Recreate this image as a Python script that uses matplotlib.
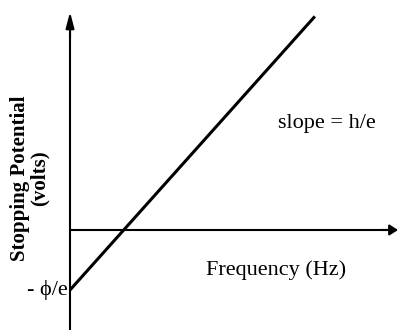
import matplotlib
matplotlib.use('Agg')
import matplotlib.pyplot as plt

# Stopping potential vs frequency (arbitrary units: threshold freq = 1, phi/e = 1)
frequency = [0.0, 4.56]
potential = [-1.0, 3.56]
x_label = 'Frequency (Hz)'
y_label = 'Stopping Potential\n(volts)'
slope_label = 'slope = h/e'
intercept_label = '- \u03d5/e'

plt.rcParams['font.family'] = ['Liberation Serif', 'DejaVu Serif']

fig = plt.figure(figsize=(4, 3.3), dpi=100)
ax = fig.add_axes([0, 0, 1, 1])
ax.set_xlim(-1.304, 6.145)
ax.set_ylim(-1.667, 3.833)
ax.axis('off')

# axes with arrow heads
ax.plot([0, 0], [-1.667, 3.4], color='black', lw=1.5, solid_capstyle='butt')
ax.annotate('', xy=(0, 3.633), xytext=(0, 3.2),
            arrowprops=dict(arrowstyle='-|>,head_length=0.95,head_width=0.25',
                            color='black', lw=1.5, mutation_scale=10,
                            shrinkA=0, shrinkB=0))
ax.plot([0, 6.0], [0, 0], color='black', lw=1.5, solid_capstyle='butt')
ax.annotate('', xy=(6.108, 0), xytext=(5.8, 0),
            arrowprops=dict(arrowstyle='-|>,head_length=0.5,head_width=0.32',
                            color='black', lw=1.5, mutation_scale=10,
                            shrinkA=0, shrinkB=0))

# the line
ax.plot(frequency, potential, color='black', lw=2.2, solid_capstyle='butt')

ax.text(0.8175, 0.627, slope_label, transform=ax.transAxes, fontsize=16,
        ha='center', va='center')
ax.text(0.69, 0.182, x_label, transform=ax.transAxes, fontsize=16,
        ha='center', va='center')
ax.text(0.17, 0.121, intercept_label, transform=ax.transAxes, fontsize=16,
        ha='right', va='center')
ax.text(0.075, 0.46, y_label, transform=ax.transAxes, fontsize=15,
        fontweight='bold', rotation=90, ha='center', va='center',
        multialignment='center', linespacing=0.95)

fig.savefig('out.png', dpi=100)
